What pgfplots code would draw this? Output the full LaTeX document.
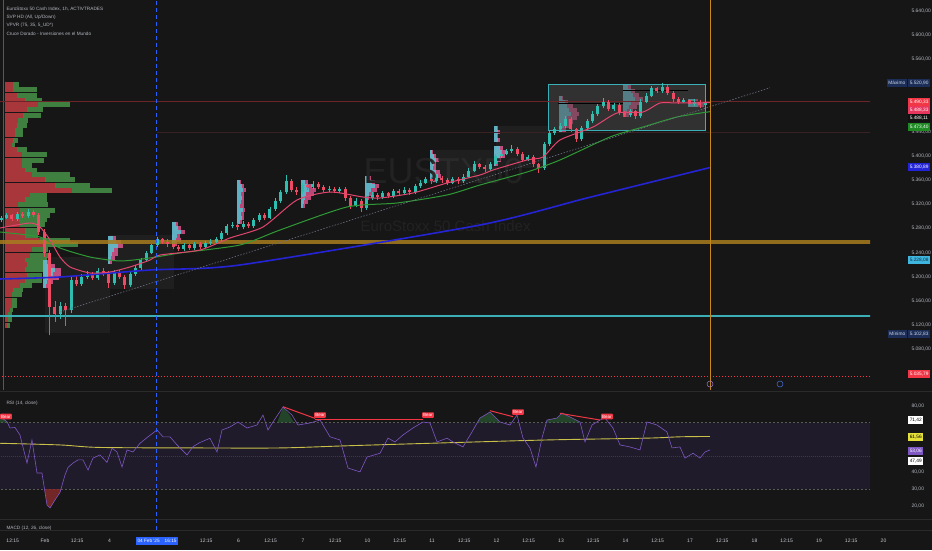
\documentclass[border=0pt]{standalone}
\usepackage{fontspec}
\setmainfont{Liberation Sans}
\usepackage{pgfplots}
\usepackage{pgfplotstable}
\pgfplotsset{compat=1.18}

\definecolor{bg}{HTML}{161616}
\definecolor{tvtext}{HTML}{B2B5BE}
\definecolor{timetext}{HTML}{C5C8CF}
\definecolor{up}{HTML}{2EBDAE}
\definecolor{dn}{HTML}{EF4A63}
\definecolor{ema20}{HTML}{E2466E}
\definecolor{ema50}{HTML}{2F9A36}
\definecolor{ema200}{HTML}{2424D6}
\definecolor{vpred}{HTML}{A8373B}
\definecolor{vpgreen}{HTML}{3F7F40}
\definecolor{svcyan}{HTML}{4FC3D0}
\definecolor{svpink}{HTML}{D9508A}
\definecolor{gold}{HTML}{A67C1E}
\definecolor{cyanline}{HTML}{3AAFB5}
\definecolor{rsiline}{HTML}{7E57C2}
\definecolor{rsima}{HTML}{C9C04A}
\definecolor{rsiband}{HTML}{1F1B2A}
\definecolor{tvblue}{HTML}{2962FF}
\definecolor{tvred}{HTML}{F23645}
\definecolor{navy}{HTML}{1C2E57}
\definecolor{navytext}{HTML}{CFD8E8}
\definecolor{sep}{HTML}{2A2A2A}
\definecolor{wm}{HTML}{222222}
\definecolor{olivev}{HTML}{6B5A1E}
\definecolor{redline}{HTML}{6B2427}
\definecolor{faintred}{HTML}{3A2124}
\definecolor{trendgray}{HTML}{6A6F80}
\definecolor{orangev}{HTML}{C8891A}
\definecolor{dashgray}{HTML}{5A5A5A}
\definecolor{midline}{HTML}{3C3A45}
\definecolor{obfill}{HTML}{2E6B3A}
\definecolor{osfill}{HTML}{8B2A2A}
\definecolor{evpurple}{HTML}{9C7BD0}
\definecolor{evblue}{HTML}{4A6FD8}
\definecolor{pinktag}{HTML}{E8375E}
\definecolor{blacktag}{HTML}{111111}
\definecolor{greentag}{HTML}{1F8A24}
\definecolor{bluetag}{HTML}{2323D8}
\definecolor{skytag}{HTML}{3FB6E0}
\definecolor{skytext}{HTML}{0B2A3A}
\definecolor{yellowtag}{HTML}{E6E13A}

\pgfplotsset{tv/.style={scale only axis, axis line style={draw=none}, major tick length=0pt,
  tick label style={font=\fontsize{5}{6}\selectfont, text=tvtext},
  /pgf/number format/assume math mode=true, scaled ticks=false}}
\tikzset{tag/.style={anchor=west, inner xsep=1.6pt, inner ysep=1.2pt, minimum height=7.5pt,
  font=\fontsize{4.8}{5}\selectfont, text=white},
  bear/.style={fill=tvred, text=white, inner sep=1.2pt, rounded corners=0.8pt,
  font=\fontsize{4.5}{5}\selectfont}}

% hourly candles, x = -0.68 + i/12 days from 3 Feb
\pgfplotstableread{
i o h l c
0 5294 5301 5290 5298
1 5298 5306 5295 5302
2 5302 5304 5292 5296
3 5296 5308 5293 5304
4 5304 5307 5297 5300
5 5300 5312 5298 5308
6 5308 5311 5299 5303
7 5303 5306 5270 5275
8 5275 5279 5232 5240
9 5240 5244 5103 5150
10 5150 5160 5125 5138
11 5138 5158 5130 5152
12 5152 5156 5118 5145
13 5145 5200 5140 5195
14 5195 5203 5184 5188
15 5188 5205 5185 5200
16 5200 5210 5196 5205
17 5205 5208 5194 5198
18 5198 5214 5195 5210
19 5210 5214 5202 5206
20 5206 5209 5182 5190
21 5190 5212 5187 5208
22 5208 5212 5196 5200
23 5200 5203 5180 5186
24 5186 5208 5183 5205
25 5205 5219 5202 5215
26 5215 5231 5212 5228
27 5228 5243 5225 5240
28 5240 5255 5237 5252
29 5252 5266 5249 5262
30 5262 5265 5254 5258
31 5258 5262 5250 5254
32 5254 5258 5246 5250
33 5250 5253 5242 5246
34 5246 5256 5243 5252
35 5252 5255 5244 5248
36 5248 5258 5245 5254
37 5254 5257 5246 5250
38 5250 5260 5247 5256
39 5256 5262 5252 5258
40 5258 5266 5255 5262
41 5262 5276 5259 5272
42 5272 5288 5269 5284
43 5284 5290 5280 5286
44 5286 5289 5278 5282
45 5282 5292 5279 5288
46 5288 5291 5280 5284
47 5284 5298 5281 5294
48 5294 5306 5291 5302
49 5302 5305 5294 5298
50 5298 5316 5295 5312
51 5312 5330 5309 5326
52 5326 5344 5322 5340
53 5340 5368 5337 5358
54 5358 5362 5340 5344
55 5344 5348 5336 5340
56 5340 5356 5337 5352
57 5352 5355 5344 5348
58 5348 5358 5345 5354
59 5354 5357 5345 5349
60 5349 5352 5340 5344
61 5344 5350 5341 5346
62 5346 5349 5338 5342
63 5342 5349 5339 5345
64 5345 5348 5326 5330
65 5330 5333 5312 5318
66 5318 5330 5315 5326
67 5326 5329 5308 5314
68 5314 5334 5311 5330
69 5330 5340 5327 5336
70 5336 5339 5328 5332
71 5332 5342 5329 5338
72 5338 5341 5330 5334
73 5334 5346 5331 5342
74 5342 5345 5334 5338
75 5338 5348 5335 5344
76 5344 5347 5336 5340
77 5340 5354 5337 5350
78 5350 5360 5347 5356
79 5356 5366 5353 5362
80 5362 5365 5354 5358
81 5358 5368 5355 5364
82 5364 5367 5356 5360
83 5360 5363 5352 5356
84 5356 5366 5353 5362
85 5362 5365 5354 5358
86 5358 5370 5355 5366
87 5366 5380 5363 5376
88 5376 5392 5373 5386
89 5386 5389 5378 5382
90 5382 5385 5374 5378
91 5378 5390 5375 5386
92 5386 5404 5383 5400
93 5400 5408 5397 5404
94 5404 5412 5401 5408
95 5408 5418 5405 5412
96 5412 5415 5400 5404
97 5404 5407 5390 5394
98 5394 5402 5391 5398
99 5398 5401 5382 5386
100 5386 5389 5372 5380
101 5380 5424 5377 5420
102 5420 5442 5417 5438
103 5438 5448 5435 5444
104 5444 5454 5441 5450
105 5450 5466 5447 5462
106 5462 5465 5440 5444
107 5444 5447 5424 5428
108 5428 5450 5425 5446
109 5446 5462 5443 5458
110 5458 5474 5455 5470
111 5470 5486 5467 5482
112 5482 5496 5479 5490
113 5490 5493 5474 5478
114 5478 5488 5475 5484
115 5484 5487 5468 5472
116 5472 5475 5464 5468
117 5468 5478 5465 5474
118 5474 5477 5462 5466
119 5466 5494 5463 5490
120 5490 5504 5487 5500
121 5500 5516 5497 5512
122 5512 5515 5504 5508
123 5508 5521 5505 5514
124 5514 5517 5501 5505
125 5505 5508 5490 5494
126 5494 5497 5486 5490
127 5490 5496 5487 5492
128 5492 5495 5482 5486
129 5486 5494 5483 5490
130 5490 5493 5480 5484
131 5484 5491 5481 5488
}\candles

% visible range volume profile: price row, red part, green part (width on screen)
\pgfplotstableread{
p r g
5517.6 8 6
5509.3 8 24
5501.0 12 20
5492.7 20 17
5484.5 33 32
5476.2 22 16
5467.9 18 18
5459.6 13 10
5451.3 12 10
5443.1 10 8
5434.8 10 8
5426.5 8 5
5418.2 7 3
5410.0 12 10
5401.7 17 25
5393.4 17 22
5385.1 17 10
5376.8 20 12
5368.6 27 38
5360.3 40 30
5352.0 50 35
5343.7 67 40
5335.5 25 17
5327.2 20 22
5318.9 13 30
5310.6 15 35
5302.3 15 30
5294.1 14 28
5285.8 15 25
5277.5 20 13
5269.2 20 13
5260.9 35 30
5252.7 40 33
5244.4 27 16
5236.1 25 18
5227.8 20 22
5219.6 22 20
5211.3 20 23
5203.0 22 15
5194.7 20 17
5186.4 15 12
5178.2 8 10
5169.9 7 10
5161.6 7 5
5153.3 7 5
5145.1 5 3
5136.8 3 4
5128.5 3 4
5120.2 2 3
}\vpvr

% session volume profiles: start (screen), price row, up part, down part
\pgfplotstableread{
x p lc lp
43 5224.5 4 3
43 5217.9 8 4
43 5211.3 12 6
43 5204.7 10 8
43 5198.1 6 10
43 5191.4 4 6
43 5184.8 3 3
108 5264.3 5 3
108 5257.6 8 5
108 5251.0 10 5
108 5244.4 6 4
108 5237.8 4 6
108 5231.2 3 4
108 5224.5 2 2
172 5287.5 4 2
172 5280.8 6 3
172 5274.2 9 4
172 5267.6 5 3
172 5261.0 4 5
172 5254.3 3 2
237 5357.0 3 1
237 5350.4 5 2
237 5343.7 6 3
237 5337.1 4 3
237 5330.5 5 2
237 5323.9 4 3
237 5317.2 3 4
237 5310.6 6 2
237 5304.0 4 3
237 5297.4 5 2
237 5290.8 3 2
301 5357.0 4 3
301 5350.4 6 5
301 5343.7 8 7
301 5337.1 5 8
301 5330.5 4 6
301 5323.9 3 4
301 5317.2 2 2
365 5363.6 4 2
365 5357.0 7 3
365 5350.4 10 4
365 5343.7 6 6
365 5337.1 4 5
365 5330.5 2 2
430 5406.7 2 1
430 5400.0 4 2
430 5393.4 6 3
430 5386.8 4 2
430 5380.2 3 3
430 5373.5 6 4
430 5366.9 8 3
430 5360.3 4 2
494 5446.4 3 1
494 5439.8 4 2
494 5433.1 3 1
494 5426.5 4 2
494 5413.3 6 3
494 5406.7 8 4
494 5400.0 6 5
494 5393.4 4 3
494 5386.8 2 2
559 5496.1 3 1
559 5489.4 6 3
559 5482.8 8 6
559 5476.2 10 8
559 5469.6 12 8
559 5462.9 8 10
559 5456.3 6 8
559 5449.7 5 6
559 5443.0 3 4
623 5514.3 5 3
623 5507.6 8 4
623 5501.0 10 6
623 5494.4 12 8
623 5487.8 8 10
623 5481.2 6 8
623 5474.5 4 6
623 5467.9 3 3
688 5491.1 6 4
688 5484.5 10 6
}\svp

\begin{document}
\begin{tikzpicture}[font=\fontsize{4.7}{5.6}\selectfont]
\path[use as bounding box, fill=bg] (0,0) rectangle (932pt,550pt);

% time scale
\begin{axis}[tv, at={(0pt,0pt)}, anchor=south west, width=932pt, height=550pt,
  xmin=-0.6977, xmax=13.752, ymin=0, ymax=550, ytick=\empty,
  xtick={-0.5,0,0.5,1,2.5,3,3.5,4,4.5,5,5.5,6,6.5,7,7.5,8,8.5,9,9.5,10,10.5,11,11.5,12,12.5,13},
  xticklabels={12:15,Feb,12:15,4,12:15,6,12:15,7,12:15,10,12:15,11,12:15,12,12:15,13,12:15,14,12:15,17,12:15,18,12:15,19,12:15,20},
  xticklabel style={anchor=center, yshift=9pt, text=timetext}]
\coordinate (vb) at (axis cs:1.736,20);
\coordinate (vt) at (axis cs:1.736,550);
\end{axis}

% volume profiles (screen width units)
\begin{axis}[tv, at={(0pt,160pt)}, anchor=south west, width=870pt, height=390pt,
  xmin=0, xmax=870, ymin=5012.6, ymax=5658.3, xtick=\empty, ytick=\empty]
\addplot[draw=none, mark=none, error bars/.cd, x dir=plus, x explicit, error mark=none,
  error bar style={line width=5pt, draw=vpgreen}]
  table[x expr=5, y=p, x error expr=\thisrow{r}+\thisrow{g}] {\vpvr};
\addplot[draw=none, mark=none, error bars/.cd, x dir=plus, x explicit, error mark=none,
  error bar style={line width=5pt, draw=vpred}]
  table[x expr=5, y=p, x error=r] {\vpvr};
\addplot[draw=none, mark=none, error bars/.cd, x dir=plus, x explicit, error mark=none,
  error bar style={line width=3.6pt, draw=svpink, opacity=0.85}]
  table[x=x, y=p, x error expr=\thisrow{lc}+\thisrow{lp}] {\svp};
\addplot[draw=none, mark=none, error bars/.cd, x dir=plus, x explicit, error mark=none,
  error bar style={line width=3.6pt, draw=svcyan, opacity=0.85}]
  table[x=x, y=p, x error=lc] {\svp};
\end{axis}

% price panel
\begin{axis}[tv, at={(0pt,160pt)}, anchor=south west, width=870pt, height=390pt,
  xmin=-0.6977, xmax=12.791, ymin=5012.6, ymax=5658.3, xtick=\empty,
  ytick={5080,5120,5160,5200,5240,5280,5320,5360,5400,5440,5560,5600,5640},
  yticklabel pos=right,
  yticklabel style={anchor=west, xshift=38pt, /pgf/number format/.cd, fixed, fixed zerofill, precision=2, use comma}]
\node[anchor=base west, text=wm, font=\fontsize{36}{36}\selectfont] at (axis cs:4.884,5355.3) {EUSTX50};
\node[anchor=base west, text=wm, font=\fontsize{15}{15}\selectfont] at (axis cs:4.837,5274.2) {EuroStoxx 50 Cash Index};
\draw[olivev, line width=0.8pt] (axis cs:-0.651,5012.6) -- (axis cs:-0.651,5658.3);
\fill[white, opacity=0.04] (axis cs:0.0,5233) rectangle (axis cs:1.0,5107);
\fill[white, opacity=0.04] (axis cs:1.0,5270) rectangle (axis cs:2.0,5180);
\fill[white, opacity=0.04] (axis cs:6.0,5410) rectangle (axis cs:7.0,5355);
\fill[white, opacity=0.04] (axis cs:7.0,5450) rectangle (axis cs:7.8,5380);
\draw[fill=gray!60!black, fill opacity=0.5, draw=cyanline, line width=0.8pt]
  (axis cs:7.798,5519.2) rectangle (axis cs:10.233,5443.0);
\addplot[gold, line width=4pt, opacity=0.85] coordinates {(-1,5257.6) (13,5257.6)};
\addplot[cyanline, line width=1.2pt] coordinates {(-1,5135.1) (13,5135.1)};
\addplot[redline, line width=0.6pt] coordinates {(-1,5490.33) (13,5490.33)};
\addplot[faintred, line width=0.5pt] coordinates {(1.736,5439.8) (13,5439.8)};
\addplot[tvred, line width=0.6pt, dash pattern=on 1.5pt off 1.5pt] coordinates {(-1,5035.79) (13,5035.79)};
\addplot[black, line width=0.8pt] coordinates {(7.953,5487.8) (8.961,5487.8)};
\addplot[black, line width=0.8pt] coordinates {(8.961,5509.3) (9.969,5509.3)};
% wicks and bodies
\addplot[draw=none, mark=none, restrict expr to domain={\thisrow{c}-\thisrow{o}}{0:100000},
  error bars/.cd, y dir=plus, y explicit, error mark=none, error bar style={line width=0.6pt, draw=up}]
  table[x expr=-0.68+\thisrow{i}/12, y=l, y error expr=\thisrow{h}-\thisrow{l}] {\candles};
\addplot[draw=none, mark=none, restrict expr to domain={\thisrow{c}-\thisrow{o}}{-100000:-0.001},
  error bars/.cd, y dir=plus, y explicit, error mark=none, error bar style={line width=0.6pt, draw=dn}]
  table[x expr=-0.68+\thisrow{i}/12, y=l, y error expr=\thisrow{h}-\thisrow{l}] {\candles};
\addplot[draw=none, mark=none, restrict expr to domain={\thisrow{c}-\thisrow{o}}{0:100000},
  error bars/.cd, y dir=plus, y explicit, error mark=none, error bar style={line width=3pt, draw=up}]
  table[x expr=-0.68+\thisrow{i}/12, y expr={min(\thisrow{o},\thisrow{c})}, y error expr={abs(\thisrow{c}-\thisrow{o})}] {\candles};
\addplot[draw=none, mark=none, restrict expr to domain={\thisrow{c}-\thisrow{o}}{-100000:-0.001},
  error bars/.cd, y dir=plus, y explicit, error mark=none, error bar style={line width=3pt, draw=dn}]
  table[x expr=-0.68+\thisrow{i}/12, y expr={min(\thisrow{o},\thisrow{c})}, y error expr={abs(\thisrow{c}-\thisrow{o})}] {\candles};
% moving averages and trend
\addplot[ema200, line width=1.6pt, smooth, tension=0.4] coordinates {
(-0.698,5196.4) (0.233,5199.7) (1.628,5211.3) (3.023,5219.6) (6.744,5285.8) (8.403,5330.5) (10.310,5380.9)};
\addplot[ema50, line width=1pt, smooth, tension=0.4] coordinates {
(-0.698,5274.2) (-0.078,5265.9) (0.233,5247.7) (0.698,5232.8) (1.163,5226.2) (1.628,5231.2) (2.093,5239.4)
(3.023,5252.7) (3.643,5277.5) (4.682,5315.6) (5.457,5322.2) (6.233,5335.5) (6.744,5352.0) (7.473,5373.5)
(7.984,5393.4) (8.760,5431.5) (9.271,5448.0) (9.798,5464.6) (10.310,5473.4)};
\addplot[ema20, line width=1pt, smooth, tension=0.4] coordinates {
(-0.698,5280.8) (-0.233,5289.1) (-0.078,5282.5) (0.078,5261.0) (0.233,5232.8) (0.388,5216.3) (0.698,5206.3)
(1.008,5208.0) (1.318,5216.3) (1.628,5227.8) (1.783,5236.1) (2.403,5244.4) (2.868,5264.3) (3.380,5282.5)
(3.907,5327.2) (4.419,5340.4) (4.930,5332.1) (5.194,5330.5) (5.705,5338.8) (6.233,5355.3) (6.744,5368.6)
(6.946,5376.8) (7.473,5393.4) (7.721,5398.4) (7.984,5426.5) (8.496,5448.0) (8.868,5471.2) (9.271,5472.9)
(9.535,5487.8) (9.798,5487.8) (10.310,5488.3)};
\addplot[trendgray, line width=0.6pt, dash pattern=on 1.5pt off 1.5pt] coordinates {(0.233,5141.8) (11.24,5513.0)};
\draw[orangev, line width=0.8pt] (axis cs:10.31,5012.6) -- (axis cs:10.31,5658.3);
\coordinate (tmax) at (axis cs:12.791,5520.9);
\coordinate (t1) at (axis cs:12.791,5489.4);
\coordinate (t2) at (axis cs:12.791,5476.2);
\coordinate (t3) at (axis cs:12.791,5462.9);
\coordinate (t4) at (axis cs:12.791,5448.0);
\coordinate (t5) at (axis cs:12.791,5381.8);
\coordinate (t6) at (axis cs:12.791,5227.8);
\coordinate (tmin) at (axis cs:12.791,5105.3);
\coordinate (t7) at (axis cs:12.791,5039.1);
\end{axis}

% RSI panel
\begin{axis}[tv, at={(0pt,32pt)}, anchor=south west, width=870pt, height=125pt,
  xmin=-0.6977, xmax=12.791, ymin=12.56, ymax=87.74, xtick=\empty,
  ytick={20,30,40,80}, yticklabel pos=right,
  yticklabel style={anchor=west, xshift=38pt, /pgf/number format/.cd, fixed, fixed zerofill, precision=2, use comma}]
\fill[rsiband] (axis cs:-1,30) rectangle (axis cs:13,70);
\draw[dashgray, line width=0.5pt, dash pattern=on 2pt off 2pt] (axis cs:-1,70) -- (axis cs:13,70);
\draw[dashgray, line width=0.5pt, dash pattern=on 2pt off 2pt] (axis cs:-1,30) -- (axis cs:13,30);
\draw[midline, line width=0.4pt, dash pattern=on 1pt off 1pt] (axis cs:-1,50) -- (axis cs:13,50);
\addplot[fill=obfill, draw=none, fill opacity=0.55] coordinates {(3.60,70) (3.690,79.3) (3.80,74) (3.86,70)} -- cycle;
\addplot[fill=obfill, draw=none, fill opacity=0.55] coordinates {(6.70,70) (6.744,72.7) (6.899,76.3) (7.054,70.3) (7.07,70)} -- cycle;
\addplot[fill=obfill, draw=none, fill opacity=0.55] coordinates {(7.77,70) (7.783,71.5) (7.938,72.7) (8.016,75.7) (8.140,73.3) (8.295,70.3) (8.30,70)} -- cycle;
\addplot[fill=obfill, draw=none, fill opacity=0.55] coordinates {(-0.698,70) (-0.698,73.5) (-0.589,70.5) (-0.58,70)} -- cycle;
\addplot[fill=osfill, draw=none, fill opacity=0.8] coordinates {(-0.01,30) (0.031,20.4) (0.078,18.6) (0.155,23.4) (0.233,28) (0.25,30)} -- cycle;
\addplot[rsima, line width=0.9pt, smooth] coordinates {
(-0.698,57.5) (0.233,56.5) (0.853,55) (2.403,54.7) (3.643,54.7) (4.682,56) (5.969,57.5) (7.783,59.5)
(9.333,60.6) (9.845,61.4) (10.310,61.6)};
\addplot[rsiline, line width=0.6pt] coordinates {
(-0.698,73.5) (-0.589,70.5) (-0.543,66.7) (-0.465,67) (-0.388,62.5) (-0.279,45.6) (-0.202,59.5) (-0.124,39.6)
(-0.047,39.6) (0.031,20.4) (0.078,18.6) (0.155,23.4) (0.233,28) (0.310,38.4) (0.357,43) (0.434,45.6)
(0.512,47.5) (0.589,47.5) (0.667,41.4) (0.744,48.6) (0.853,50.5) (0.961,46) (1.039,54.5) (1.116,52.3)
(1.194,43.2) (1.271,53.5) (1.364,52.3) (1.473,57.5) (1.597,61.4) (1.736,65.5) (1.829,61.4) (1.938,61.4)
(2.047,56.5) (2.202,50.5) (2.295,55.5) (2.403,58) (2.558,60.5) (2.667,52.3) (2.744,65.5) (2.868,67.3)
(2.992,70.3) (3.132,66.7) (3.287,68.5) (3.380,74.5) (3.457,65.5) (3.535,70.3) (3.690,79.3) (3.829,74.5)
(3.922,68.5) (4.109,69.7) (4.264,71.5) (4.419,61.4) (4.574,59.5) (4.698,42.6) (4.884,40.3) (4.992,49.2)
(5.194,51.5) (5.318,60.6) (5.426,58.3) (5.550,62.5) (5.705,66.7) (5.860,70.3) (5.969,69.7) (6.078,58.3)
(6.233,60.6) (6.326,58.3) (6.481,55.3) (6.620,64.3) (6.744,72.7) (6.899,76.3) (7.054,70.3) (7.209,68.5)
(7.318,74.5) (7.411,60.6) (7.519,54.7) (7.612,43.2) (7.705,60.6) (7.783,71.5) (7.938,72.7) (8.016,75.7)
(8.140,73.3) (8.295,70.3) (8.372,58.3) (8.481,68.5) (8.605,71.5) (8.682,72.7) (8.806,66.7) (8.915,56.5)
(9.070,55.3) (9.225,53.5) (9.333,70.3) (9.488,68.5) (9.643,64.3) (9.721,54.7) (9.845,55.3) (9.922,48.6)
(10.047,51.5) (10.155,48.6) (10.233,52.3) (10.310,53.5)};
\addplot[tvred, line width=1pt] coordinates {(3.690,79.5) (4.186,72.5)};
\addplot[tvred, line width=1pt] coordinates {(4.186,71.8) (5.860,71.8)};
\addplot[tvred, line width=1pt] coordinates {(6.899,77.1) (7.256,73.5)};
\addplot[tvred, line width=1pt] coordinates {(7.984,75.5) (8.605,71.5)};
\coordinate (b1) at (axis cs:-0.605,73.6);
\coordinate (b2) at (axis cs:4.264,74.5);
\coordinate (b3) at (axis cs:5.938,74.5);
\coordinate (b4) at (axis cs:7.333,76.3);
\coordinate (b5) at (axis cs:8.713,73.6);
\coordinate (r1) at (axis cs:12.791,71.42);
\coordinate (r2) at (axis cs:12.791,61.3);
\coordinate (r3) at (axis cs:12.791,52.9);
\coordinate (r4) at (axis cs:12.791,46.8);
\end{axis}

% panel separators
\draw[sep, line width=0.6pt] (0,159pt) -- (932pt,159pt);
\draw[sep, line width=0.6pt] (0,31pt) -- (932pt,31pt);
\draw[sep, line width=0.6pt] (0,20pt) -- (932pt,20pt);
\draw[tvblue, line width=1pt, dash pattern=on 4pt off 3pt] (vb) -- (vt);

% legends
\node[anchor=base west, text=tvtext] at (3pt,539pt) {EuroStoxx 50 Cash Index, 1h, ACTIVTRADES};
\node[anchor=base west, text=tvtext] at (3pt,531pt) {SVP HD (All, Up/Down)};
\node[anchor=base west, text=tvtext] at (3pt,523pt) {VPVR (75, 35, 5\_UD*)};
\node[anchor=base west, text=tvtext] at (3pt,514pt) {Cruce Dorado - Inversiones en el Mundo};
\node[anchor=base west, text=tvtext] at (3pt,146pt) {RSI (14, close)};
\node[anchor=base west, text=tvtext] at (3pt,21pt) {MACD (12, 26, close)};

% event markers
\draw[evpurple, line width=0.5pt] (710pt,166pt) circle (3pt);
\draw[evblue, line width=0.5pt] (780pt,166pt) circle (3pt);

% price tags
\node[tag, fill=navy, text=navytext] at ([xshift=38pt]tmax) {5.520,90};
\node[tag, fill=navy, text=navytext, anchor=east] at ([xshift=37pt]tmax) {Máximo};
\node[tag, fill=tvred] at ([xshift=38pt]t1) {5.490,33};
\node[tag, fill=pinktag] at ([xshift=38pt]t2) {5.488,33};
\node[tag, fill=blacktag] at ([xshift=38pt]t3) {5.488,11};
\node[tag, fill=greentag] at ([xshift=38pt]t4) {5.473,40};
\node[tag, fill=bluetag] at ([xshift=38pt]t5) {5.380,89};
\node[tag, fill=skytag, text=skytext] at ([xshift=38pt]t6) {5.228,08};
\node[tag, fill=navy, text=navytext] at ([xshift=38pt]tmin) {5.102,83};
\node[tag, fill=navy, text=navytext, anchor=east] at ([xshift=37pt]tmin) {Mínimo};
\node[tag, fill=tvred] at ([xshift=38pt]t7) {5.035,79};
\node[tag, fill=white, text=black] at ([xshift=38pt]r1) {71,42};
\node[tag, fill=yellowtag, text=black] at ([xshift=38pt]r2) {61,56};
\node[tag, fill=rsiline] at ([xshift=38pt]r3) {53,06};
\node[tag, fill=white, text=black] at ([xshift=38pt]r4) {47,49};
\node[bear] at (b1) {Bear};
\node[bear] at (b2) {Bear};
\node[bear] at (b3) {Bear};
\node[bear] at (b4) {Bear};
\node[bear] at (b5) {Bear};
\node[fill=tvblue, text=white, inner xsep=2pt, inner ysep=2.5pt] at (157pt,9pt) {04 Feb '25\hspace{5pt}16:15};
\end{tikzpicture}
\end{document}
